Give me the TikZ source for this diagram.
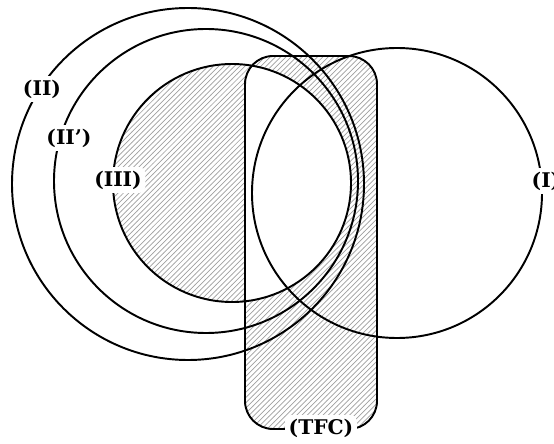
\documentclass[tikz,border=0pt]{standalone}
\usepackage{fontspec}
\setmainfont{DejaVu Serif}
\usetikzlibrary{patterns}

\begin{document}
\begin{tikzpicture}[x=0.02cm, y=0.02cm, line width=1.1pt,
    hatch/.style={pattern=north east lines, pattern color=gray!75},
    tag/.style={fill=white, rounded corners=3pt, inner sep=2pt,
      font=\fontsize{11.5}{13}\selectfont\bfseries}]
  \useasboundingbox (0,0) rectangle (554,443);
  \coordinate (cII) at (188,259);
  \coordinate (cIIp) at (206,262);
  \coordinate (cIII) at (232,260);
  \coordinate (cI) at (397,250);
  \coordinate (tfcA) at (245,14);
  \coordinate (tfcB) at (377,387);
  % hatched parts: (III) and (TFC), not their overlap
  \fill[hatch, even odd rule, rounded corners=16pt]
    (cIII) circle (119) (tfcA) rectangle (tfcB);
  % outlines
  \draw (cII) circle (176);
  \draw (cIIp) circle (152);
  \draw (cIII) circle (119);
  \draw (cI) circle (145);
  \draw[rounded corners=16pt] (tfcA) rectangle (tfcB);
  % labels
  \node[tag] (lII) at (42,354) {(II)};
  \node[tag] (lIIp) at (69,305) {(II’)};
  \node[tag] (lIII) at (118,263) {(III)};
  \node[tag] (lI) at (546,262) {(I)};
  \node[tag] (lTFC) at (321,15) {(TFC)};
\end{tikzpicture}
\end{document}
